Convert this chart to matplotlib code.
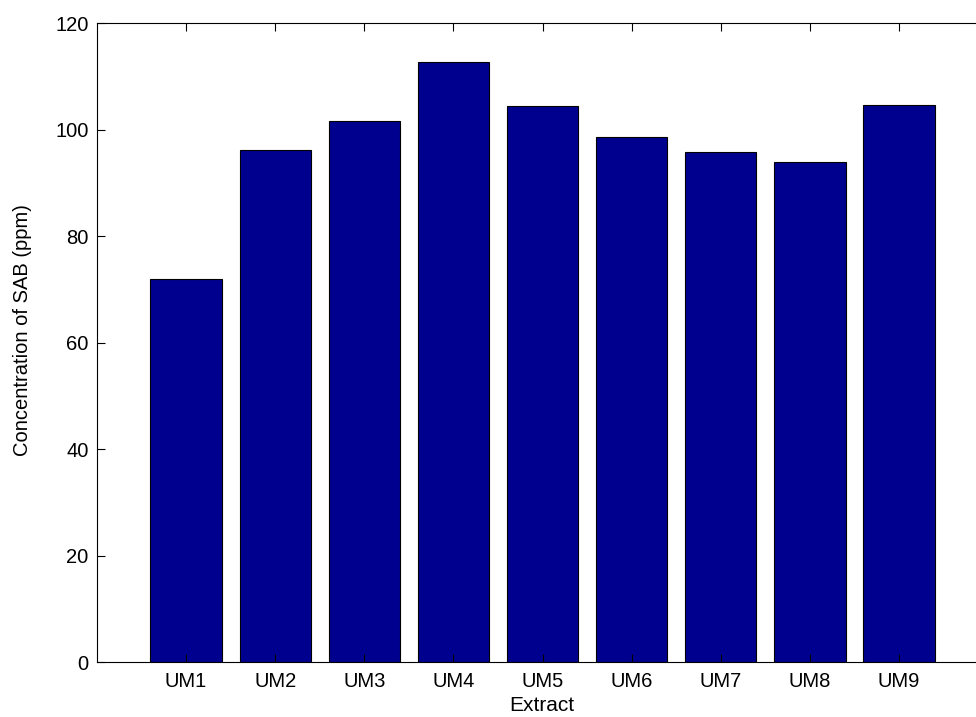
import matplotlib
matplotlib.use("Agg")
import matplotlib.pyplot as plt

plt.rcParams['font.family'] = ['Liberation Sans', 'DejaVu Sans']

# extracts and measured SAB concentration (ppm)
extracts = ['UM1', 'UM2', 'UM3', 'UM4', 'UM5', 'UM6', 'UM7', 'UM8', 'UM9']
conc = [71.9, 96.1, 101.7, 112.7, 104.4, 98.7, 95.8, 94.0, 104.7]
positions = list(range(1, len(extracts) + 1))

fig = plt.figure(figsize=(9.76, 7.17), dpi=100)
ax = fig.add_axes([0.0994, 0.0767, 0.913, 0.891])

ax.bar(positions, conc, width=0.8, color='#00008F', edgecolor='black', linewidth=0.8)

ax.set_xlim(0, 10)
ax.set_ylim(0, 120)
ax.set_xticks(positions)
ax.set_xticklabels(extracts)
ax.set_yticks(range(0, 121, 20))
ax.tick_params(direction='in', top=True, right=True, length=6, width=0.8,
               labelsize=14.5, pad=6)
ax.tick_params(axis='x', pad=7)
for s in ax.spines.values():
    s.set_linewidth(0.8)

ax.set_xlabel('Extract', fontsize=15)
ax.set_ylabel('Concentration of SAB (ppm)', fontsize=14.5)
ax.xaxis.set_label_coords(0.4995, -0.053)
ax.yaxis.set_label_coords(-0.073, 0.52)

fig.savefig('out.png', dpi=100)
